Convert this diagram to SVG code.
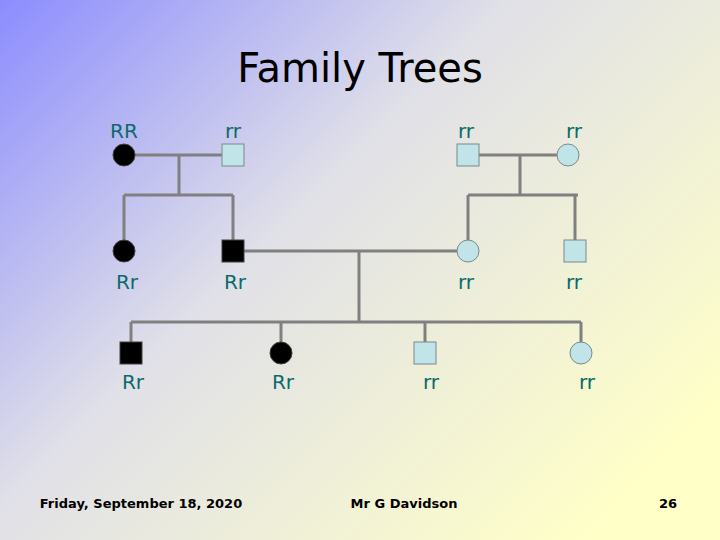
<svg xmlns="http://www.w3.org/2000/svg" width="720" height="540" viewBox="0 0 720 540">
<defs>
<linearGradient id="bg" x1="0" y1="0" x2="1" y2="0.75">
<stop offset="0" stop-color="#8c8cff"/>
<stop offset="0.45" stop-color="#e0e0e8"/>
<stop offset="1" stop-color="#ffffc8"/>
</linearGradient>
<style>
.l{stroke:#808080;stroke-width:3;fill:none}
.b{fill:#000;stroke:#404040;stroke-width:1}
.c{fill:#c0e4e8;stroke:#7a8a8a;stroke-width:1}
.t{font-family:"DejaVu Sans",sans-serif;font-size:20px;fill:#0a6a6a;text-anchor:middle}
.f{font-family:"DejaVu Sans",sans-serif;font-size:13px;font-weight:bold;fill:#000;text-anchor:middle}
</style>
</defs>
<rect width="720" height="540" fill="url(#bg)"/>
<text x="360" y="82" font-family="DejaVu Sans,sans-serif" font-size="40" text-anchor="middle">Family Trees</text>
<g id="connectors">
<path class="l" d="M124 155H233M179 155V195M124 195H233M124 195V245M233 195V245"/>
<path class="l" d="M468 155H568M520 155V195M468 195H578M468 195V245M575 195V245"/>
<path class="l" d="M233 251H468M359 251V322M131 322H581M131 322V345M281 322V345M425 322V345M581 322V345"/>
</g>
<g id="g1a"><circle class="b" cx="124" cy="155" r="11"/><text class="t" x="124" y="138">RR</text></g>
<g id="g1b"><rect class="c" x="222" y="144" width="22" height="22"/><text class="t" x="233" y="138">rr</text></g>
<g id="g1c"><rect class="c" x="457" y="144" width="22" height="22"/><text class="t" x="466" y="138">rr</text></g>
<g id="g1d"><circle class="c" cx="568" cy="155" r="11"/><text class="t" x="574" y="138">rr</text></g>
<g id="g2a"><circle class="b" cx="124" cy="251" r="11"/><text class="t" x="127" y="289">Rr</text></g>
<g id="g2b"><rect class="b" x="222" y="240" width="22" height="22"/><text class="t" x="235" y="289">Rr</text></g>
<g id="g2c"><circle class="c" cx="468" cy="251" r="11"/><text class="t" x="466" y="289">rr</text></g>
<g id="g2d"><rect class="c" x="564" y="240" width="22" height="22"/><text class="t" x="574" y="289">rr</text></g>
<g id="g3a"><rect class="b" x="120" y="342" width="22" height="22"/><text class="t" x="133" y="389">Rr</text></g>
<g id="g3b"><circle class="b" cx="281" cy="353" r="11"/><text class="t" x="283" y="389">Rr</text></g>
<g id="g3c"><rect class="c" x="414" y="342" width="22" height="22"/><text class="t" x="431" y="389">rr</text></g>
<g id="g3d"><circle class="c" cx="581" cy="353" r="11"/><text class="t" x="587" y="389">rr</text></g>
<text class="f" x="141" y="508">Friday, September 18, 2020</text>
<text class="f" x="404" y="508">Mr G Davidson</text>
<text class="f" x="668" y="508">26</text>
</svg>
